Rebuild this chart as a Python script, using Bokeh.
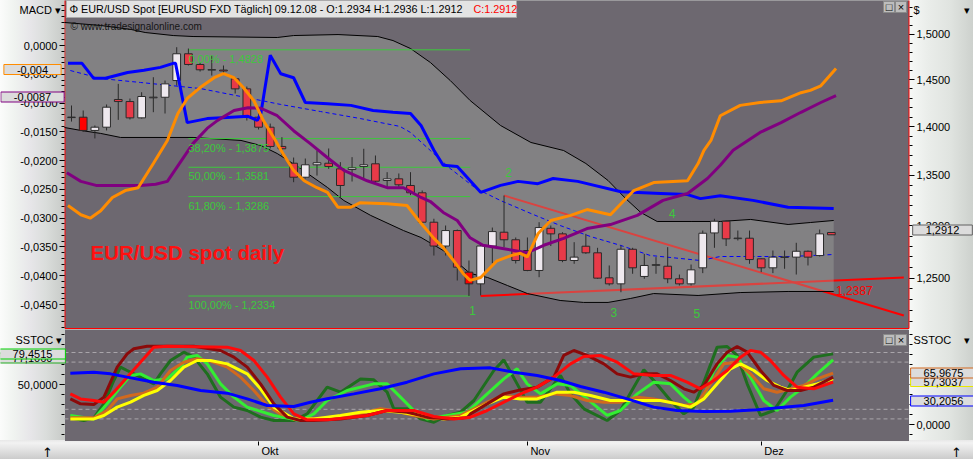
from bokeh.plotting import figure
from bokeh.models import (Range1d, LinearScale, LinearAxis, LogAxis, FixedTicker,
                          CustomJSTickFormatter, Label, ColumnDataSource)
from bokeh.layouts import column
from bokeh.embed import file_html
from bokeh.resources import INLINE

# ---------------- data ----------------
bars = list(range(66))
opens = [1.4095, 1.4099, 1.3960, 1.3994, 1.4287, 1.4265, 1.4092, 1.4305, 1.4311, 1.4491,
         1.4784, 1.4666, 1.4605, 1.4605, 1.4510, 1.4401, 1.4099, 1.3994, 1.3794, 1.3622,
         1.3480, 1.3606, 1.3622, 1.3565, 1.3558, 1.3589, 1.3616, 1.3447, 1.3464, 1.3397,
         1.3324, 1.3034, 1.2804, 1.2953, 1.2556, 1.2447, 1.2804, 1.2937, 1.2864, 1.2761,
         1.2572, 1.2975, 1.2921, 1.2666, 1.2802, 1.2739, 1.2503, 1.2447, 1.2773, 1.2516,
         1.2620, 1.2612, 1.2494, 1.2447, 1.2597, 1.2930, 1.3044, 1.2875, 1.2879, 1.2682,
         1.2597, 1.2695, 1.2698, 1.2754, 1.2713, 1.2934]
highs = [1.4223, 1.4170, 1.4012, 1.4234, 1.4455, 1.4297, 1.4365, 1.4527, 1.4491, 1.4857,
         1.4842, 1.4688, 1.4765, 1.4655, 1.4524, 1.4426, 1.4202, 1.4032, 1.3890, 1.3680,
         1.3670, 1.3752, 1.3773, 1.3633, 1.3684, 1.3770, 1.3701, 1.3531, 1.3518, 1.3531,
         1.3347, 1.3068, 1.3002, 1.2963, 1.2666, 1.2818, 1.2982, 1.3297, 1.2886, 1.2886,
         1.3034, 1.3002, 1.2937, 1.2841, 1.2921, 1.2787, 1.2619, 1.2809, 1.2787, 1.2729,
         1.2698, 1.2793, 1.2534, 1.2628, 1.2953, 1.3068, 1.3051, 1.2953, 1.2953, 1.2685,
         1.2761, 1.2761, 1.2835, 1.2761, 1.2963, 1.2936]
lows = [1.4053, 1.3945, 1.3877, 1.3960, 1.4071, 1.4075, 1.4085, 1.4152, 1.4138, 1.4437,
        1.4655, 1.4589, 1.4545, 1.4564, 1.4351, 1.4064, 1.3970, 1.3773, 1.3701, 1.3430,
        1.3467, 1.3497, 1.3565, 1.3280, 1.3437, 1.3470, 1.3414, 1.3380, 1.3380, 1.3301,
        1.3022, 1.2713, 1.2713, 1.2478, 1.2334, 1.2340, 1.2638, 1.2793, 1.2638, 1.2565,
        1.2509, 1.2804, 1.2650, 1.2635, 1.2729, 1.2494, 1.2431, 1.2369, 1.2541, 1.2494,
        1.2541, 1.2453, 1.2431, 1.2431, 1.2547, 1.2787, 1.2804, 1.2857, 1.2635, 1.2556,
        1.2547, 1.2588, 1.2534, 1.2619, 1.2704, 1.2912]
closes = [1.4100, 1.3960, 1.3994, 1.4205, 1.4265, 1.4092, 1.4319, 1.4312, 1.4455, 1.4784,
          1.4666, 1.4608, 1.4610, 1.4595, 1.4401, 1.4099, 1.3994, 1.3794, 1.3770, 1.3480,
          1.3606, 1.3627, 1.3589, 1.3397, 1.3575, 1.3606, 1.3440, 1.3464, 1.3404, 1.3324,
          1.3034, 1.2804, 1.2953, 1.2603, 1.2447, 1.2804, 1.2943, 1.2864, 1.2666, 1.2572,
          1.2982, 1.2921, 1.2666, 1.2698, 1.2739, 1.2500, 1.2447, 1.2773, 1.2597, 1.2619,
          1.2627, 1.2494, 1.2447, 1.2578, 1.2927, 1.3044, 1.2873, 1.2880, 1.2675, 1.2597,
          1.2698, 1.2700, 1.2754, 1.2698, 1.2921, 1.2912]
highlight_bars = [1, 34]

# Bollinger bands and middle average (price)
bb_up_x = [-0.6, 2.5, 5.1, 6.3, 8.7, 10.4, 17.6, 19.0, 22.8, 26.2, 27.5, 29.0, 30.7, 32.4,
           34.1, 36.7, 39.3, 42.1, 44.0, 45.9, 47.4, 48.7, 50.1, 53.0, 55.5, 58.1, 61.3, 63.2, 65.2]
bb_up = [1.5134, 1.5100, 1.5055, 1.5021, 1.4987, 1.4976, 1.4965, 1.4987, 1.4998, 1.4976,
         1.4931, 1.4842, 1.4688, 1.4491, 1.4276, 1.4012, 1.3835, 1.3752, 1.3619, 1.3447,
         1.3267, 1.3129, 1.3041, 1.3041, 1.3041, 1.3061, 1.3012, 1.3031, 1.3051]
bb_lo_x = [-0.6, 0.8, 2.5, 4.2, 10.4, 14.5, 16.2, 17.6, 19.6, 21.9, 23.3, 25.6, 28.4, 29.9,
           31.8, 34.1, 35.6, 37.3, 39.0, 41.8, 43.8, 45.9, 47.8, 49.8, 53.6, 57.2, 61.3, 65.2]
bb_lo = [1.3991, 1.3960, 1.3929, 1.3887, 1.3887, 1.3856, 1.3804, 1.3721, 1.3568, 1.3377,
         1.3247, 1.3100, 1.2953, 1.2886, 1.2761, 1.2544, 1.2506, 1.2431, 1.2357, 1.2293,
         1.2275, 1.2275, 1.2311, 1.2357, 1.2339, 1.2366, 1.2376, 1.2376]
ma_x = [-0.1, 2.5, 5.9, 8.5, 11.0, 14.5, 17.9, 21.3, 24.7, 28.1, 29.0, 30.7, 32.4, 34.6,
        36.7, 39.3, 41.8, 44.4, 47.0, 49.5, 52.1, 53.8, 55.5, 58.1, 61.5, 65.2]
ma = [1.4600, 1.4513, 1.4470, 1.4437, 1.4405, 1.4319, 1.4234, 1.4159, 1.4085, 1.4002,
      1.3939, 1.3752, 1.3568, 1.3367, 1.3247, 1.3119, 1.3002, 1.2895, 1.2809, 1.2714,
      1.2685, 1.2666, 1.2704, 1.2704, 1.2704, 1.2723]

# MACD panel lines (left axis)
blue_x = [-0.3, 0.9, 1.9, 2.9, 4.8, 6.2, 7.6, 8.7, 8.9, 9.9, 11.6, 13.3, 15.1, 15.9, 16.2,
          17.0, 17.9, 19.0, 20.0, 21.9, 23.9, 25.8, 27.5, 29.0, 29.9, 31.0, 31.8, 33.0, 35.0,
          36.7, 38.2, 39.9, 41.2, 43.3, 47.0, 50.4, 52.7, 53.8, 55.5, 58.3, 61.3, 65.2]
blue_v = [-0.0031, -0.0031, -0.0057, -0.0057, -0.0047, -0.0043, -0.0038, -0.0031, -0.0031,
          -0.0134, -0.0127, -0.0125, -0.0123, -0.0130, -0.0118, -0.0017, -0.0049, -0.0056,
          -0.0099, -0.0101, -0.0104, -0.0113, -0.0116, -0.0118, -0.0139, -0.0182, -0.0208,
          -0.0210, -0.0255, -0.0243, -0.0236, -0.0240, -0.0231, -0.0236, -0.0254, -0.0257,
          -0.0259, -0.0266, -0.0261, -0.0269, -0.0281, -0.0283]
macd_x = [-0.3, 0.8, 1.6, 2.5, 3.5, 4.6, 5.7, 7.0, 8.2, 9.1, 9.9, 11.0, 12.2, 13.0, 13.9,
          14.7, 15.6, 16.4, 17.3, 18.1, 19.0, 19.9, 21.0, 21.9, 22.8, 23.9, 24.7, 27.0, 28.7,
          29.7, 31.0, 31.8, 32.7, 33.5, 34.1, 35.0, 36.4, 37.6, 38.4, 39.0, 39.9, 41.0, 42.7,
          44.1, 46.1, 47.0, 48.1, 49.8, 52.7, 53.6, 54.1, 54.7, 55.5, 57.2, 58.9, 60.7, 62.4,
          63.2, 64.1, 65.4]
macd_v = [-0.0278, -0.0294, -0.0300, -0.0287, -0.0264, -0.0252, -0.0247, -0.0205, -0.0165,
          -0.0118, -0.0092, -0.0073, -0.0056, -0.0049, -0.0056, -0.0073, -0.0096, -0.0130,
          -0.0160, -0.0188, -0.0217, -0.0235, -0.0247, -0.0255, -0.0281, -0.0281, -0.0273,
          -0.0275, -0.0278, -0.0304, -0.0335, -0.0351, -0.0374, -0.0396, -0.0408, -0.0403,
          -0.0374, -0.0365, -0.0361, -0.0367, -0.0327, -0.0304, -0.0295, -0.0285, -0.0294,
          -0.0275, -0.0252, -0.0238, -0.0235, -0.0205, -0.0182, -0.0165, -0.0122, -0.0104,
          -0.0099, -0.0096, -0.0082, -0.0078, -0.0070, -0.0040]
signal_x = [-0.4, 0.8, 2.1, 3.8, 5.9, 7.2, 8.2, 9.3, 10.4, 11.6, 12.5, 13.9, 15.1, 16.2, 17.6,
            19.0, 20.4, 21.9, 23.3, 25.3, 27.0, 28.4, 29.9, 30.7, 31.8, 33.0, 34.1, 35.2, 37.0,
            39.0, 40.4, 42.1, 44.1, 46.1, 48.4, 50.6, 52.7, 54.4, 55.5, 56.6, 58.9, 60.7, 62.4,
            64.1, 65.4]
signal_v = [-0.0221, -0.0236, -0.0243, -0.0243, -0.0243, -0.0241, -0.0236, -0.0203, -0.0170,
            -0.0144, -0.0130, -0.0113, -0.0108, -0.0109, -0.0122, -0.0148, -0.0170, -0.0195,
            -0.0217, -0.0235, -0.0247, -0.0247, -0.0264, -0.0271, -0.0290, -0.0304, -0.0334,
            -0.0347, -0.0353, -0.0360, -0.0347, -0.0335, -0.0318, -0.0311, -0.0295, -0.0269,
            -0.0257, -0.0231, -0.0208, -0.0182, -0.0151, -0.0134, -0.0116, -0.0099, -0.0087]

# Fibonacci retracement
fib_pct = ["0,00%", "38,20%", "50,00%", "61,80%", "100,00%"]
fib_levels = [1.4828, 1.3875, 1.3581, 1.3286, 1.2334]
fib_from, fib_to = 10, 34.1

# trend lines
support_x = [35, 71.2]
support_y = [1.2334, 1.2506]
resist_x = [37, 71.2]
resist_y = [1.3297, 1.2156]

# wave count
wave_text = ["1", "2", "3", "4", "5"]
wave_x = [34.3, 37.4, 46.4, 51.4, 53.5]
wave_y = [1.2201, 1.3528, 1.2183, 1.3120, 1.2174]

# SSTOC panel
dg_x = [-0.1, 1.05, 1.91, 2.77, 3.62, 4.19, 4.76, 5.9, 7.04, 7.61, 8.47, 9.61, 10.46, 11.61,
        12.75, 13.89, 15.03, 16.17, 17.31, 19.02, 20.16, 21.87, 23.01, 24.72, 25.86, 27.0,
        27.57, 28.71, 29.85, 31.0, 32.14, 33.28, 34.42, 34.99, 36.13, 36.98, 38.12, 38.98,
        40.12, 40.97, 41.83, 42.68, 43.83, 45.82, 46.96, 48.1, 48.96, 49.81, 51.24, 52.38,
        53.23, 54.09, 55.23, 56.09, 56.94, 57.8, 58.94, 60.08, 61.22, 62.07, 63.5, 65.15]
dg_v = [8.3, 5, 8.3, 25.8, 55, 71.7, 67.5, 59.2, 50.8, 63.3, 80, 90.4, 84.2, 63.3, 34.2, 21.7,
        17.5, 9.2, 5, 5, 13.3, 46.7, 40.4, 57, 55.8, 40.4, 19.6, 19.6, 7, 2.9, 11.3, 15.4, 30,
        42.5, 67.5, 80.8, 50.8, 27.9, 27.9, 44.6, 61.3, 38.3, 19.6, 5, 17.5, 46.7, 68.3, 55,
        30, 13.3, 21.7, 52.9, 96.7, 97.5, 86.3, 50.8, 11.3, 17.5, 42.5, 65.4, 84.2, 88.3]
gr_x = [-0.1, 1.91, 3.05, 4.19, 5.05, 5.9, 7.04, 8.18, 9.32, 9.89, 10.75, 11.61, 12.75, 13.89,
        15.03, 17.31, 19.59, 20.73, 21.87, 23.58, 25.86, 27.0, 28.14, 29.28, 30.42, 32.14,
        33.85, 35.56, 36.98, 38.12, 38.98, 40.12, 41.54, 42.68, 44.11, 45.82, 46.96, 48.39,
        49.81, 51.24, 52.38, 53.23, 54.09, 54.95, 56.09, 56.94, 58.08, 59.22, 60.36, 61.5,
        62.64, 63.78, 65.15]
gr_v = [11.3, 7, 25.8, 46.7, 61.3, 63.3, 55, 57, 71.7, 84.2, 86.3, 75.8, 50.8, 34.2, 21.7,
        11.3, 5, 13.3, 30, 42.5, 50.8, 50.8, 34.2, 17.5, 7, 11.3, 15.4, 38.3, 57, 69.6, 50.8,
        38.3, 50.8, 48.8, 32, 11.3, 17.5, 38.3, 52.9, 50.8, 34.2, 23.8, 34.2, 67.5, 86.3, 84.2,
        59.2, 30, 17.5, 34.2, 46.7, 63.3, 80.8]
or_x = [-0.1, 1.91, 3.05, 3.91, 5.05, 6.19, 7.33, 8.47, 9.61, 10.75, 11.89, 13.32, 14.46,
        15.6, 16.74, 17.88, 19.02, 20.16, 21.87, 24.72, 26.43, 27.57, 29.28, 31.0, 33.28,
        34.13, 35.56, 36.98, 38.41, 39.83, 41.26, 42.68, 44.11, 45.54, 46.96, 48.39, 49.81,
        51.24, 52.38, 53.52, 54.66, 55.8, 56.94, 58.08, 59.22, 60.36, 61.5, 62.64, 63.78, 65.15]
or_v = [8.3, 8.3, 17.5, 32, 36.3, 39.2, 46.7, 67.5, 77.9, 82.1, 79.2, 71.7, 59.2, 42.5, 23.8,
        13.3, 7, 7, 8.3, 13.3, 19.6, 17.5, 11.3, 7, 11.3, 17.5, 27.9, 36.3, 34.2, 34.2, 38.3,
        36.3, 30, 27.9, 27.9, 34.2, 32, 27.9, 23.8, 25.8, 50.8, 75.8, 77.9, 63.3, 44.6, 40.4,
        44.6, 48.8, 57, 64.2]
ye_x = [-0.1, 1.91, 2.77, 3.91, 5.05, 6.19, 7.33, 8.47, 9.61, 10.75, 11.89, 13.32, 15.03,
        16.17, 17.31, 19.02, 20.73, 23.01, 24.72, 26.43, 28.14, 29.85, 31.85, 33.28, 34.13,
        35.56, 36.98, 38.41, 39.83, 41.54, 42.97, 44.4, 46.1, 47.53, 48.96, 50.38, 51.81,
        52.95, 54.09, 55.23, 56.37, 57.23, 58.37, 59.51, 60.65, 61.5, 62.64, 63.78, 65.15]
ye_v = [7, 7, 11.3, 21.7, 27.9, 36.3, 42.5, 55, 71.7, 80, 80, 75.8, 63.3, 44.6, 21.7, 7, 7,
        11.3, 15.4, 17.5, 15.4, 11.3, 7, 9.2, 15.4, 25.8, 34.2, 32, 32, 40.4, 40.4, 36.3, 30,
        30, 30, 30, 25.8, 21.7, 32, 50.8, 69.6, 75.8, 67.5, 55, 46.7, 42.5, 46.7, 50.8, 57]
dr_x = [-0.1, 0.77, 1.91, 2.77, 3.91, 4.76, 5.33, 6.47, 10.46, 12.75, 13.89, 15.03, 16.17,
        17.31, 18.45, 19.59, 20.73, 23.01, 25.29, 27.0, 28.71, 30.42, 32.14, 33.85, 34.13,
        35.56, 36.98, 38.41, 39.83, 41.26, 42.11, 42.97, 44.11, 45.54, 46.68, 47.82, 48.96,
        50.1, 51.24, 52.38, 53.23, 54.09, 55.23, 56.09, 56.94, 57.8, 58.94, 60.08, 61.22,
        62.36, 63.5, 65.15]
dr_v = [32, 25.8, 25, 34.2, 71.7, 88.3, 94.6, 97.9, 97.9, 92.5, 84.2, 71.7, 50.8, 25.8, 9.2,
        5, 5, 7, 11.3, 17.5, 15.4, 9.2, 7, 8.3, 13.3, 25.8, 38.3, 43.3, 46.7, 59.2, 86.3, 92.5,
        86.3, 75.8, 63.3, 59.2, 63.3, 63.3, 55, 44.6, 40.4, 48.8, 75.8, 90.4, 97.5, 90.4, 67.5,
        48.8, 42.5, 42.5, 46.7, 59.2]
rd_x = [-0.1, 0.77, 1.91, 2.77, 3.62, 4.76, 5.9, 7.04, 8.18, 13.32, 14.46, 15.6, 16.74, 17.88,
        19.02, 20.16, 21.87, 23.58, 25.29, 27.0, 29.28, 31.0, 32.71, 34.13, 35.56, 36.98,
        38.41, 39.83, 41.26, 42.68, 43.83, 45.25, 46.68, 48.1, 49.81, 51.24, 52.66, 53.8,
        54.95, 56.09, 57.23, 58.08, 58.94, 59.79, 60.93, 62.07, 63.5, 65.15]
rd_v = [38.3, 32, 30, 27.9, 40.4, 59.2, 77.9, 96.7, 97.9, 96.7, 92.5, 80, 59.2, 34.2, 13.3,
        5.8, 5.8, 8.3, 11.3, 17.5, 17.5, 10, 7, 9.2, 17.5, 27.9, 38.3, 46.7, 59.2, 75.8, 85,
        86.3, 77.9, 63.3, 61.3, 61.3, 52.9, 44.6, 55, 67.5, 84.2, 92.5, 90.4, 80, 61.3, 46.7,
        44.6, 52.9]
bl_x = [-0.1, 1.91, 3.34, 4.76, 7.04, 9.04, 11.04, 13.32, 15.03, 16.74, 19.02, 20.44, 21.87,
        24.15, 26.43, 28.71, 31.0, 33.28, 35.84, 37.84, 39.83, 41.83, 43.54, 45.54, 47.53,
        49.81, 51.81, 54.09, 56.37, 58.65, 60.93, 62.64, 65.15]
bl_v = [64.2, 65.4, 63.3, 59.2, 52.9, 48.8, 42.5, 39.2, 32.1, 23.8, 22.5, 27.9, 32.1, 38.3,
        44.6, 52.9, 63.3, 69.6, 70.8, 65.4, 61.3, 55, 47.5, 40.4, 32.1, 21.7, 17.5, 16.3,
        16.7, 18.3, 21.7, 23.8, 30.2]
sst_levels = [90, 78, 19, 7]

# axes
macd_ticks = [0.0, -0.005, -0.010, -0.015, -0.020, -0.025, -0.030, -0.035, -0.040, -0.045]
price_ticks = [1.25, 1.30, 1.35, 1.40, 1.45, 1.50]
month_ticks = [16, 39, 59]
month_names = ["Okt", "Nov", "Dez"]

# ---------------- style ----------------
FONT = "Liberation Sans"
BG = "#6D6870"
UP, DOWN, HL, OUT = "#EEE8EE", "#E83A48", "#FF0000", "#2A2A2A"
FIB = "#3CC83C"
W, H_TOP, H_BOT = 973, 329, 130


def rx(xr):      # pixel column of the picture -> bar units
    return (xr - 71.0) / 11.69


def ry_top(yr):  # pixel row -> MACD units of the top panel
    return -(yr - 45.0) * 0.0001737


def ry_bot(yr):  # pixel row -> SSTOC units of the lower panel
    return 118.75 - (yr - 329.0) * 1.25


fmt4 = CustomJSTickFormatter(code="return tick.toFixed(4).replace('.', ',');")


def style_axis(ax):
    ax.axis_line_color = None
    ax.major_tick_line_color = "black"
    ax.minor_tick_line_color = "black"
    ax.major_tick_out = 5
    ax.major_tick_in = 0
    ax.minor_tick_out = 3
    ax.minor_tick_in = 0
    ax.major_label_text_font = FONT
    ax.major_label_text_font_size = "11px"
    ax.major_label_text_color = "black"
    ax.major_label_standoff = 2


def txt(fig, text, x, y, yname="default", size="11px", color="black", align="left",
        font=FONT, **kw):
    fig.add_layout(Label(x=x, y=y, y_range_name=yname, text=text, text_font=font,
                         text_font_size=size, text_color=color, text_align=align,
                         text_baseline=kw.pop("baseline", "middle"), **kw))


def tag(fig, text, xc, y, border, yname="default"):
    fig.add_layout(Label(x=rx(xc), y=y, y_range_name=yname, text=text, text_font=FONT,
                         text_font_size="11px", text_color="black", text_align="center",
                         text_baseline="middle", background_fill_color="#DCDCDC",
                         border_line_color=border, border_line_width=1, padding=(13, 1)))


side_grad = ("linear-gradient(to right, #fbfcfb 0px, #f0f3f0 14px, #e7e6e9 30px, #dadddb 46px, "
             "#c8cbc8 64px, #c8cbc8 908px, #f7f9f7 908px, #eaedea 928px, #e0e4e0 950px, #cdd1cd 973px)")

XR = Range1d(rx(0), rx(W))

# ---------------- top panel ----------------
top = figure(frame_width=W, frame_height=H_TOP, x_range=XR,
             y_range=Range1d(1.2029, 1.5385), y_axis_type="log",
             x_axis_location=None, y_axis_location=None, output_backend="svg",
             toolbar_location=None, title=None,
             min_border_left=0, min_border_right=0, min_border_top=0, min_border_bottom=0,
             background_fill_color=None, border_fill_color=None, outline_line_color=None)
top.styles = {"background": side_grad}
top.grid.visible = False
top.extra_y_ranges = {"macd": Range1d(ry_top(H_TOP), ry_top(0))}
top.extra_y_scales = {"macd": LinearScale()}

# plot area with red frame
top.quad(left=rx(64.5), right=rx(908.5), top=ry_top(-1), bottom=ry_top(328), y_range_name="macd",
         fill_color=BG, line_color="#FF0000", line_width=1)

ra = LogAxis(ticker=FixedTicker(ticks=price_ticks,
                                minor_ticks=[round(1.20 + 0.01 * i, 2) for i in range(35)]),
             formatter=fmt4, fixed_location=rx(909))
style_axis(ra)
top.add_layout(ra, "right")
la = LinearAxis(y_range_name="macd", ticker=FixedTicker(ticks=macd_ticks,
                minor_ticks=[round(-0.049 + 0.001 * i, 3) for i in range(57)]),
                formatter=fmt4, fixed_location=rx(64))
style_axis(la)
top.add_layout(la, "left")

# trend lines (under the band)
top.line(support_x, support_y, line_color="#FF0000", line_width=2)
top.line(resist_x, resist_y, line_color="#FF0000", line_width=2)

# Bollinger band
top.patch(bb_up_x + bb_lo_x[::-1], bb_up + bb_lo[::-1], fill_color="#A3A8A0",
          fill_alpha=0.4, line_color=None)
top.line(bb_up_x, bb_up, line_color="black", line_width=1)
top.line(bb_lo_x, bb_lo, line_color="black", line_width=1)

# Fibonacci
top.segment(x0=[fib_from] * 5, y0=fib_levels, x1=[fib_to] * 5, y1=fib_levels,
            line_color=FIB, line_width=1)
for pct, lvl in zip(fib_pct, fib_levels):
    txt(top, f"{pct} - {lvl:.4f}".replace(".", ","), fib_from, lvl, color=FIB,
        baseline="top", y_offset=-3)

top.line(ma_x, ma, line_color="#0000FF", line_width=1, line_dash="4 3")

# candles
cols = []
for i, (o, c) in enumerate(zip(opens, closes)):
    cols.append(HL if i in highlight_bars else (UP if c >= o else DOWN))
src = ColumnDataSource(dict(x=bars, h=highs, l=lows,
                            t=[max(o, c) for o, c in zip(opens, closes)],
                            b=[min(o, c) for o, c in zip(opens, closes)], col=cols))
top.segment("x", "h", "x", "l", source=src, line_color=OUT, line_width=1)
top.vbar(x="x", top="t", bottom="b", width=0.66, fill_color="col", line_color=OUT,
         line_width=1, source=src)

# indicator lines
top.line(blue_x, blue_v, y_range_name="macd", line_color="#0000FF", line_width=3)
top.line(signal_x, signal_v, y_range_name="macd", line_color="#800080", line_width=3)
top.line(macd_x, macd_v, y_range_name="macd", line_color="#FF8C00", line_width=3)

for t, x, y in zip(wave_text, wave_x, wave_y):
    txt(top, t, x, y, size="12px", color=FIB, align="center")

txt(top, "1,2387", 65.4, 1.2387, size="12px", color="#FF0000", baseline="alphabetic")
txt(top, "EUR/USD spot daily", rx(90), ry_top(252), "macd", size="20.5px", color="#FF1010",
    text_font_style="bold")

# header
top.quad(left=rx(66), right=rx(516), top=ry_top(0), bottom=ry_top(17), y_range_name="macd",
         fill_color="#E3E3E3", line_color="#A8A8A8")
txt(top, "Φ EUR/USD Spot [EURUSD FXD  Täglich] 09.12.08 - O:1.2934 H:1.2936 L:1.2912",
    rx(69), ry_top(8.5), "macd", size="10.8px")
txt(top, "C:1.2912", rx(473), ry_top(8.5), "macd", size="10.8px", color="#FF0000")
txt(top, "© www.tradesignalonline.com", rx(70), ry_top(25.5), "macd", size="10px",
    color="#151515")
top.quad(left=[rx(883), rx(895)], right=[rx(894), rx(906)], top=ry_top(1), bottom=ry_top(12),
         y_range_name="macd", fill_color="#BDBDBD", line_color="#8A8A8A")
for xx, tt in [(888.5, "□"), (900.5, "×")]:
    txt(top, tt, rx(xx), ry_top(6.5), "macd", align="center")

# side panel texts
txt(top, "MACD ▾", rx(19), ry_top(9), "macd")
txt(top, "$", rx(913), ry_top(9), "macd")
txt(top, "▾", rx(963), ry_top(9), "macd")
tag(top, "-0,004", 32, ry_top(69), "#FF8C00", "macd")
tag(top, "-0,0087", 32, ry_top(96.5), "#800080", "macd")
tag(top, "1,2912", 942, ry_top(229.5), "#606060", "macd")

# ---------------- lower panel ----------------
bot = figure(frame_width=W, frame_height=H_BOT, x_range=XR,
             y_range=Range1d(ry_bot(329 + H_BOT), ry_bot(329)),
             x_axis_location=None, y_axis_location=None, output_backend="svg",
             toolbar_location=None, title=None,
             min_border_left=0, min_border_right=0, min_border_top=0, min_border_bottom=0,
             background_fill_color=None, border_fill_color=None, outline_line_color=None)
bot.styles = {"background": "linear-gradient(to bottom, #e8e8e8 0px, #f2f2f2 3px, #e2e2e2 10px, "
                            "#cbcbcb 19px) left bottom / 100% 19px no-repeat, " + side_grad}
bot.grid.visible = False
bot.quad(left=rx(64.5), right=rx(908.5), top=ry_bot(329), bottom=ry_bot(440.5),
         fill_color=BG, line_color=None)

sst_minor = [-12.5 + 12.5 * i for i in range(11)]
lb = LinearAxis(ticker=FixedTicker(ticks=[50], minor_ticks=sst_minor), formatter=fmt4,
                fixed_location=rx(64))
rb = LinearAxis(ticker=FixedTicker(ticks=[0], minor_ticks=sst_minor), formatter=fmt4,
                fixed_location=rx(909))
xb = LinearAxis(ticker=FixedTicker(ticks=month_ticks),
                major_label_overrides={m: "" for m in month_ticks}, fixed_location=ry_bot(441))
for ax in (lb, rb, xb):
    style_axis(ax)
xb.major_tick_out = 4
bot.add_layout(lb, "left")
bot.add_layout(rb, "right")
bot.add_layout(xb, "below")

bot.segment(x0=[rx(64)] * 4, y0=sst_levels, x1=[rx(908)] * 4, y1=sst_levels,
            line_color="#A9A5AA", line_dash="4 3", line_width=1)

for xs, vs, colr in [(dg_x, dg_v, "#1E6E1E"), (gr_x, gr_v, "#33EE33"), (or_x, or_v, "#D2691E"),
                     (ye_x, ye_v, "#FFFF00"), (dr_x, dr_v, "#8B0A0A"), (rd_x, rd_v, "#FF0A0A"),
                     (bl_x, bl_v, "#0000FF")]:
    bot.line(xs, vs, line_color=colr, line_width=3)

for m, name in zip(month_ticks, month_names):
    txt(bot, name, m, ry_bot(450.5), x_offset=3)

txt(bot, "SSTOC ▾", rx(15), ry_bot(339))
txt(bot, "SSTOC", rx(913), ry_bot(339))
txt(bot, "▾", rx(963), ry_bot(339))
tag(bot, "77,1060", 32, ry_bot(357.5), "#22AA22")
tag(bot, "79,4515", 32, ry_bot(353.5), "#00D000")
tag(bot, "57,3037", 943, ry_bot(381), "#E8E800")
tag(bot, "65,9675", 943, ry_bot(372.5), "#D2691E")
tag(bot, "30,2056", 943, ry_bot(400.5), "#0000FF")
bot.quad(left=[rx(883), rx(895)], right=[rx(894), rx(906)], top=ry_bot(334), bottom=ry_bot(345),
         fill_color="#BDBDBD", line_color="#8A8A8A")
for xx, tt in [(888.5, "□"), (900.5, "×")]:
    txt(bot, tt, rx(xx), ry_bot(339.5), align="center")
for xx in (47, 956):
    txt(bot, "↑", rx(xx), ry_bot(452), size="13px", align="center", font="DejaVu Sans")

layout = column(top, bot, spacing=0)
open("out.html", "w").write(file_html(layout, INLINE))
